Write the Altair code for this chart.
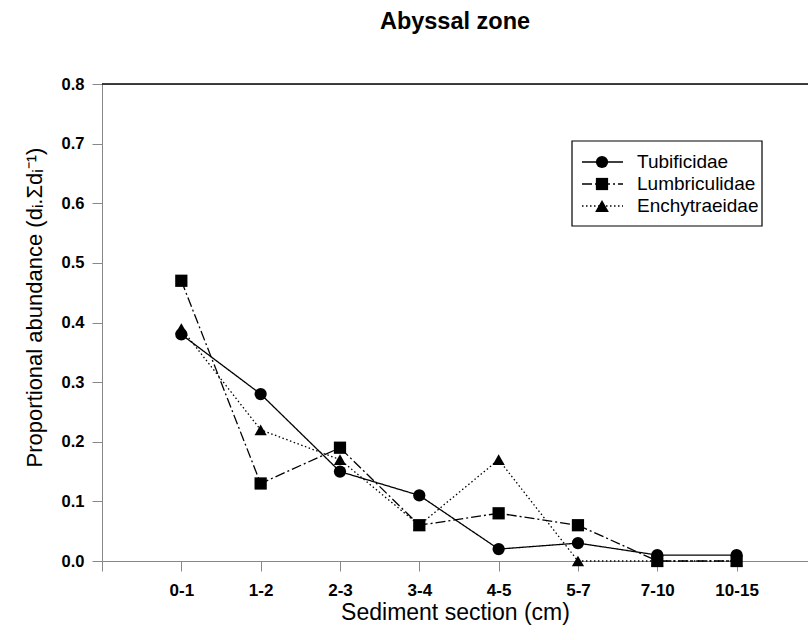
import altair as alt
import pandas as pd

categories = ["0-1", "1-2", "2-3", "3-4", "4-5", "5-7", "7-10", "10-15"]
series_names = ["Tubificidae", "Lumbriculidae", "Enchytraeidae"]
tubificidae = [0.38, 0.28, 0.15, 0.11, 0.02, 0.03, 0.01, 0.01]
lumbriculidae = [0.47, 0.13, 0.19, 0.06, 0.08, 0.06, 0.0, 0.0]
enchytraeidae = [0.39, 0.22, 0.17, 0.06, 0.17, 0.0, 0.0, 0.0]
y_ticks = [0.0, 0.1, 0.2, 0.3, 0.4, 0.5, 0.6, 0.7, 0.8]

FONT = "Liberation Sans"
W, H = 706, 477

rows = []
for name, vals in zip(series_names, [tubificidae, lumbriculidae, enchytraeidae]):
    for i, (c, v) in enumerate(zip(categories, vals)):
        rows.append({"series": name, "pos": i + 1, "section": c, "value": v})
df = pd.DataFrame(rows)

dashes = [[1, 0], [10, 3, 2, 3], [1.5, 2.5]]
shapes = ["circle", "square", "triangle-up"]
sizes = [150, 150, 190]

label_arr = "[" + ",".join(["''"] + [f"'{c}'" for c in categories]) + "]"

x_enc = alt.X(
    "pos:Q",
    scale=alt.Scale(domain=[0, 8.9], nice=False, zero=False),
    axis=alt.Axis(
        values=list(range(0, len(categories) + 1)),
        labelExpr=f"{label_arr}[datum.value]",
        title="Sediment section (cm)",
        grid=False,
        tickSize=10,
        labelPadding=11,
        labelFontSize=17,
        labelFontWeight="bold",
        titleFontSize=23,
        titleFontWeight="normal",
        titlePadding=3,
        labelFlush=False,
    ),
)
y_enc = alt.Y(
    "value:Q",
    scale=alt.Scale(domain=[0, 0.8], nice=False),
    axis=alt.Axis(
        values=y_ticks,
        format=".1f",
        title="Proportional abundance (dᵢ.Σdᵢ⁻¹)",
        grid=False,
        tickSize=10,
        labelPadding=8,
        labelFontSize=16.5,
        labelFontWeight="bold",
        titleFontSize=22,
        titleFontWeight="normal",
        titlePadding=15,
        titleY=223,
        labelFlush=False,
    ),
)

lines = alt.Chart(df).mark_line(color="black", strokeWidth=1.3).encode(
    x=x_enc,
    y=y_enc,
    detail="series:N",
    strokeDash=alt.StrokeDash(
        "series:N", scale=alt.Scale(domain=series_names, range=dashes), legend=None
    ),
)
points = alt.Chart(df).mark_point(filled=True, color="black", opacity=1).encode(
    x="pos:Q",
    y="value:Q",
    shape=alt.Shape(
        "series:N", scale=alt.Scale(domain=series_names, range=shapes), legend=None
    ),
    size=alt.Size(
        "series:N", scale=alt.Scale(domain=series_names, range=sizes), legend=None
    ),
)

one = pd.DataFrame({"k": [0]})
top_rule = alt.Chart(one).mark_rule(color="black", strokeWidth=1.3).encode(
    x=alt.value(0), x2=alt.value(W), y=alt.value(0)
)

# legend (drawn manually)
lx0, lx1, ly0, ly1 = 470, 660, 57, 142
legend_box = alt.Chart(one).mark_rect(fill="white", stroke="black", strokeWidth=1.2).encode(
    x=alt.value(lx0), x2=alt.value(lx1), y=alt.value(ly0), y2=alt.value(ly1)
)
legend_layers = [legend_box]
for i, name in enumerate(series_names):
    yy = 78 + 22 * i
    d = pd.DataFrame({"series": [name]})
    legend_layers.append(
        alt.Chart(d).mark_rule(color="black", strokeWidth=1.3, strokeDash=dashes[i]).encode(
            x=alt.value(480), x2=alt.value(521), y=alt.value(yy)
        )
    )
    legend_layers.append(
        alt.Chart(d).mark_point(filled=True, color="black", opacity=1, shape=shapes[i], size=sizes[i]).encode(
            x=alt.value(500), y=alt.value(yy)
        )
    )
    legend_layers.append(
        alt.Chart(d).mark_text(align="left", baseline="middle", font=FONT, fontSize=19, color="black").encode(
            x=alt.value(535), y=alt.value(yy), text="series:N"
        )
    )

chart = alt.layer(lines, points, top_rule, *legend_layers).properties(
    width=W,
    height=H,
    autosize=alt.AutoSizeParams(type="none"),
    padding={"left": 102, "top": 84, "right": 0, "bottom": 79},
    title=alt.TitleParams(
        "Abyssal zone", fontSize=23.5, fontWeight="bold", font=FONT, anchor="middle", offset=43, color="black"
    ),
).configure_view(stroke=None).configure_axis(
    domainColor="black",
    tickColor="black",
    labelColor="black",
    titleColor="black",
    labelFont=FONT,
    titleFont=FONT,
    grid=False,
    domainWidth=1.3,
    tickWidth=1.2,
).configure(background="white")

chart.save("out.html", embed_options={"renderer": "svg", "actions": False})
